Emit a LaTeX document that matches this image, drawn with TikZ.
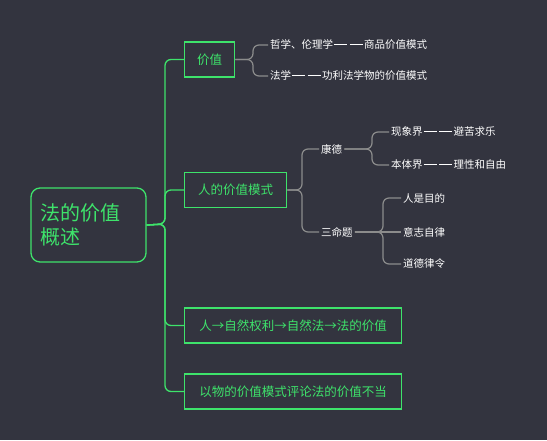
\documentclass[tikz,border=0pt]{standalone}
\usepackage{fontspec}
\setmainfont{Noto Sans CJK SC}
\usetikzlibrary{calc}

\definecolor{bgdark}{HTML}{33343F}
\definecolor{mapgreen}{HTML}{3EE36B}
\definecolor{linegray}{HTML}{8C8C8C}

\newcommand{\gapdash}{\hspace{1.2pt}\rule[0.36em]{13pt}{1.1pt}\hspace{1.2pt}}

\begin{document}
\begin{tikzpicture}[x=1pt, y=-1pt]

\tikzstyle{root_box}=[draw=mapgreen, line width=1.3pt, rounded corners=9pt, text=mapgreen, align=left, font=\fontsize{20}{24}\selectfont, minimum width=115pt, minimum height=74pt, text width=95pt]
\tikzstyle{main_box}=[draw=mapgreen, line width=1.3pt, text=mapgreen, font=\fontsize{12.5}{15}\selectfont, minimum height=35pt, inner xsep=9pt]
\tikzstyle{sub_text}=[text=white, font=\fontsize{10.5}{13}\selectfont, anchor=west, inner sep=2pt]
\tikzstyle{green_link}=[draw=mapgreen, line width=1.3pt, rounded corners=6pt]
\tikzstyle{gray_link}=[draw=linegray, line width=1.2pt, rounded corners=6pt]

\fill[bgdark] (0,0) rectangle (547,440);
\useasboundingbox (0,0) rectangle (547,440);

\coordinate (T) at (165, 224);

% main nodes
\path
(88.5, 225) node[root_box](root) {法的价值\\概述}
(184, 59.5) node[main_box, anchor=west, minimum width=50pt](value) {价值}
(184, 190) node[main_box, anchor=west, minimum width=102pt](human) {人的价值模式}
(184, 325.5) node[main_box, anchor=west, minimum width=217pt](chain) {人→自然权利→自然法→法的价值}
(184, 391.5) node[main_box, anchor=west, minimum width=217pt](wrong) {以物的价值模式评论法的价值不当};

% sub nodes
\path
(268, 45) node[sub_text](v1) {哲学、伦理学\gapdash\gapdash 商品价值模式}
(268, 76) node[sub_text](v2) {法学\gapdash\gapdash 功利法学物的价值模式}
(319, 149) node[sub_text](kant) {康德}
(319, 232) node[sub_text](three) {三命题}
(389, 132) node[sub_text](k1) {现象界\gapdash\gapdash 避苦求乐}
(389, 165) node[sub_text](k2) {本体界\gapdash\gapdash 理性和自由}
(401, 198) node[sub_text](t1) {人是目的}
(401, 232) node[sub_text](t2) {意志自律}
(401, 264) node[sub_text](t3) {道德律令};

% green trunk
\draw[green_link] (root.east) -- (T) -- (T |- value.west) -- (value.west);
\draw[green_link] (root.east) -- (T) -- (T |- human.west) -- (human.west);
\draw[green_link] (root.east) -- (T) -- (T |- chain.west) -- (chain.west);
\draw[green_link] (root.east) -- (T) -- (T |- wrong.west) -- (wrong.west);

% gray branches
\draw[gray_link] (value.east) -- (253, 59.5) -- (253, 45) -- (v1.west);
\draw[gray_link] (value.east) -- (253, 59.5) -- (253, 76) -- (v2.west);
\draw[gray_link] (human.east) -- (302, 190) -- (302, 149) -- (kant.west);
\draw[gray_link] (human.east) -- (302, 190) -- (302, 232) -- (three.west);
\draw[gray_link] (kant.east) -- (372, 149) -- (372, 132) -- (k1.west);
\draw[gray_link] (kant.east) -- (372, 149) -- (372, 165) -- (k2.west);
\draw[gray_link] (three.east) -- (383, 232) -- (383, 198) -- (t1.west);
\draw[gray_link] (three.east) -- (t2.west);
\draw[gray_link] (three.east) -- (383, 232) -- (383, 264) -- (t3.west);

\end{tikzpicture}
\end{document}
